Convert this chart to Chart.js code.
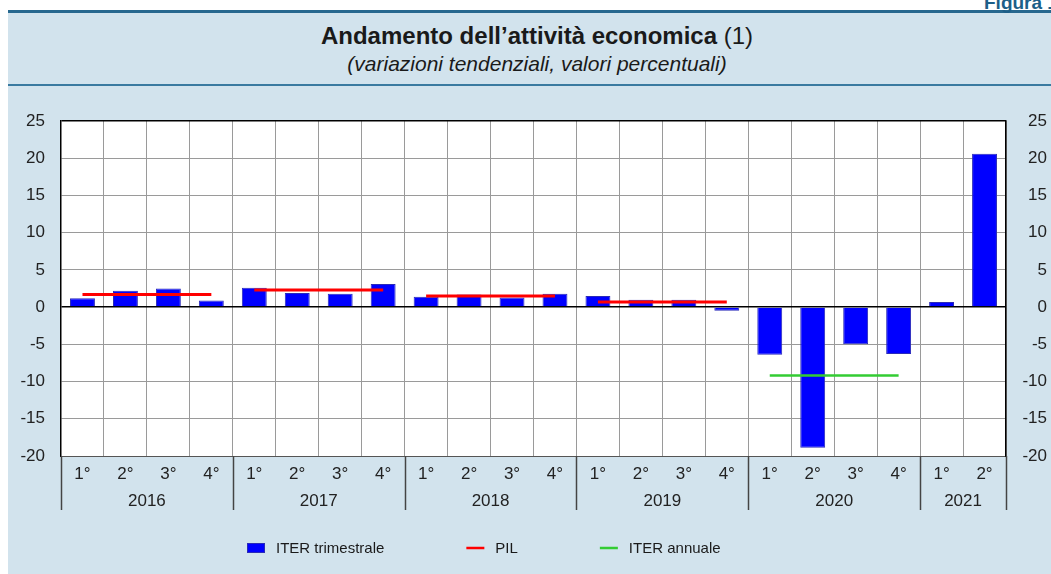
<!DOCTYPE html>
<html>
<head>
<meta charset="utf-8">
<script src="https://cdn.jsdelivr.net/npm/chart.js@4.4.0/dist/chart.umd.min.js"></script>
<style>
html, body { margin: 0; padding: 0; background: #fff; overflow: hidden; }
#wrap { position: relative; width: 1051px; height: 574px; overflow: hidden; font-family: "Liberation Sans", Arial, sans-serif; }
#panel { position: absolute; left: 8px; top: 10px; width: 1058px; height: 600px; background: #d2e3ed; border-top: 3px solid #27688f; }
#rule { position: absolute; left: 8px; top: 84px; width: 1058px; height: 2px; background: #3a7aa0; }
#fig { position: absolute; left: 984px; top: -7px; font-size: 19px; line-height: 19px; font-weight: bold; color: #1d5f88; white-space: nowrap; }
#title { position: absolute; left: 8px; width: 1058px; top: 24px; text-align: center; font-size: 24px; line-height: 24px; color: #1a1a1a; }
#title b { font-weight: bold; }
#subtitle { position: absolute; left: 8px; width: 1058px; top: 53px; text-align: center; font-size: 21px; line-height: 21px; font-style: italic; color: #1a1a1a; }
canvas { position: absolute; left: 0; top: 0; }
</style>
</head>
<body>
<div id="wrap">
  <div id="panel"></div>
  <div id="rule"></div>
  <div id="fig">Figura 1</div>
  <div id="title"><b>Andamento dell’attività economica</b> (1)</div>
  <div id="subtitle">(variazioni tendenziali, valori percentuali)</div>
  <canvas id="chart" width="1051" height="574"></canvas>
</div>
<script>
// quarters on the axis, years underneath
const quarterLabels = ['1°','2°','3°','4°', '1°','2°','3°','4°', '1°','2°','3°','4°',
                       '1°','2°','3°','4°', '1°','2°','3°','4°', '1°','2°'];
const yearLabels = ['2016','2017','2018','2019','2020','2021'];
const quartersInYear = [4, 4, 4, 4, 4, 2];

// ITER trimestrale (quarterly)
const iterTrimestrale = [1.2, 2.2, 2.5, 0.9, 2.6, 1.9, 1.8, 3.1, 1.4, 1.7, 1.3, 1.8,
                         1.5, 1.0, 1.0, -0.5, -6.4, -18.9, -5.0, -6.3, 0.7, 20.6];
// annual values, one per year
const pilAnnuale = [1.7, 2.3, 1.5, 0.7, null, null];
const iterAnnuale = [null, null, null, null, -9.2, null];

const yTicks = { min: -20, max: 25, step: 5 };

// repeat each annual value over the quarters of its year
function perQuarter(annual) {
  const out = [];
  annual.forEach((v, i) => { for (let q = 0; q < quartersInYear[i]; q++) out.push(v); });
  return out;
}

const yearEnds = [];
let acc = 0;
quartersInYear.forEach(n => { acc += n; yearEnds.push(acc - 1); });
const skipAcrossYears = color => ctx => yearEnds.includes(ctx.p0DataIndex) ? 'rgba(0,0,0,0)' : color;

const FONT = '"Liberation Sans", Arial, sans-serif';
Chart.defaults.font.family = FONT;
Chart.defaults.color = '#222';

const panelPlugin = {
  id: 'panel',
  beforeDraw(chart) {
    const { ctx, chartArea: a } = chart;
    ctx.save();
    ctx.fillStyle = '#fff';
    ctx.fillRect(a.left, a.top, a.right - a.left, a.bottom - a.top);
    ctx.restore();
  },
  afterDraw(chart) {
    const { ctx, chartArea: a } = chart;
    const x = chart.scales.x;
    ctx.save();
    // year separators and year labels
    ctx.strokeStyle = '#444';
    ctx.lineWidth = 1.5;
    ctx.fillStyle = '#222';
    ctx.font = '17px ' + FONT;
    ctx.textAlign = 'center';
    ctx.textBaseline = 'middle';
    let start = 0;
    const edges = [a.left];
    yearLabels.forEach((yr, i) => {
      const end = start + quartersInYear[i] - 1;
      const cx = (x.getPixelForValue(start) + x.getPixelForValue(end)) / 2;
      ctx.fillText(yr, cx, a.bottom + 45);
      if (i < yearLabels.length - 1) {
        edges.push((x.getPixelForValue(end) + x.getPixelForValue(end + 1)) / 2);
      }
      start = end + 1;
    });
    edges.push(a.right);
    edges.forEach(px => {
      ctx.beginPath();
      ctx.moveTo(Math.round(px) + 0.5, a.bottom);
      ctx.lineTo(Math.round(px) + 0.5, a.bottom + 54);
      ctx.stroke();
    });

    // legend
    ctx.font = '15px ' + FONT;
    ctx.textAlign = 'left';
    let lx = 247;
    const ly = 548;
    chart.data.datasets.forEach(ds => {
      if (ds.type === 'bar') {
        ctx.fillStyle = ds.backgroundColor;
        ctx.fillRect(lx, ly - 5, 18, 10);
        ctx.strokeStyle = ds.borderColor;
        ctx.lineWidth = 1;
        ctx.strokeRect(lx + 0.5, ly - 4.5, 17, 9);
      } else {
        ctx.strokeStyle = ds.borderColor;
        ctx.lineWidth = 2.5;
        ctx.beginPath();
        ctx.moveTo(lx, ly);
        ctx.lineTo(lx + 18, ly);
        ctx.stroke();
      }
      ctx.fillStyle = '#1a1a1a';
      ctx.fillText(ds.label, lx + 29, ly + 1);
      lx += 29 + ctx.measureText(ds.label).width + 82;
    });
    ctx.restore();
  }
};

const yTickOpts = { stepSize: yTicks.step, color: '#222', font: { size: 17 } };

new Chart(document.getElementById('chart'), {
  type: 'bar',
  data: {
    labels: quarterLabels,
    datasets: [
      {
        type: 'bar',
        label: 'ITER trimestrale',
        data: iterTrimestrale,
        backgroundColor: '#0000ff',
        borderColor: '#2a2ab8',
        borderWidth: 1,
        barPercentage: 0.58,
        categoryPercentage: 1,
        order: 2
      },
      {
        type: 'line',
        label: 'PIL',
        data: perQuarter(pilAnnuale),
        borderColor: '#ff0000',
        borderWidth: 3,
        pointRadius: 0,
        spanGaps: false,
        segment: { borderColor: skipAcrossYears('#ff0000') },
        order: 1
      },
      {
        type: 'line',
        label: 'ITER annuale',
        data: perQuarter(iterAnnuale),
        borderColor: '#33cc33',
        borderWidth: 2.5,
        pointRadius: 0,
        spanGaps: false,
        segment: { borderColor: skipAcrossYears('#33cc33') },
        order: 0
      }
    ]
  },
  options: {
    responsive: false,
    animation: false,
    devicePixelRatio: 1,
    layout: { padding: { top: 121, left: 0, right: 4, bottom: 0 } },
    plugins: {
      legend: { display: false },
      tooltip: { enabled: false }
    },
    scales: {
      x: {
        offset: true,
        grid: { offset: true, color: '#9a9a9a', drawTicks: false },
        border: { color: '#555', width: 1 },
        ticks: { padding: 8, maxRotation: 0, autoSkip: false, color: '#222', font: { size: 17 } },
        afterFit: s => { s.height = 118; }
      },
      y: {
        position: 'left',
        min: yTicks.min,
        max: yTicks.max,
        ticks: Object.assign({ padding: 16 }, yTickOpts),
        grid: {
          drawTicks: false,
          color: c => (c.tick.value === 0 || c.tick.value === yTicks.max) ? '#000' : '#9a9a9a',
          lineWidth: c => (c.tick.value === 0 || c.tick.value === yTicks.max) ? 1.5 : 1
        },
        border: { color: '#000', width: 1.5 },
        afterFit: s => { s.width = 61; }
      },
      y2: {
        position: 'right',
        min: yTicks.min,
        max: yTicks.max,
        ticks: Object.assign({ padding: 15, crossAlign: 'far' }, yTickOpts),
        grid: { display: false, drawTicks: false },
        border: { color: '#000', width: 1.5 },
        afterFit: s => { s.width = 41; }
      }
    }
  },
  plugins: [panelPlugin]
});
</script>
</body>
</html>
